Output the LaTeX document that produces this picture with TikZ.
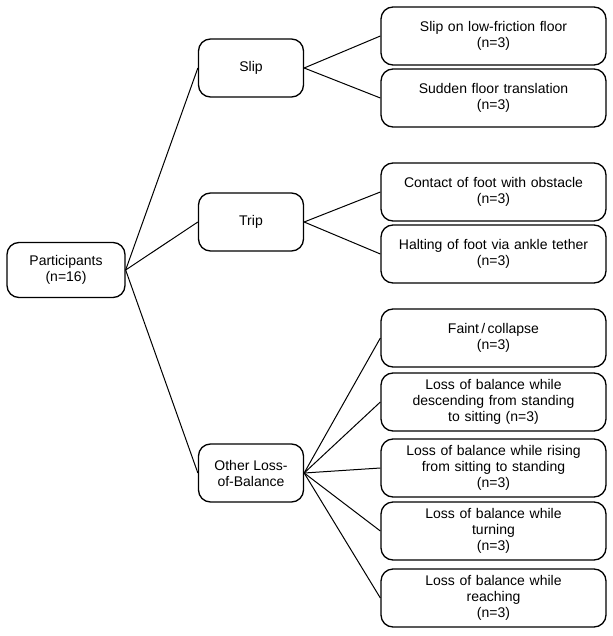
\documentclass[tikz,border=0pt]{standalone}
\usepackage{fontspec}
\setmainfont{Liberation Sans}
\begin{document}
\begin{tikzpicture}[x=1pt,y=-1pt,
  box/.style={draw,line width=1.3pt,rounded corners=12pt,align=center,font=\fontsize{14}{16}\selectfont,inner sep=2pt},
  mid/.style={box,minimum width=105pt,minimum height=58pt},
  leaf/.style={box,minimum width=225pt,minimum height=58pt,text width=215pt},
  ln/.style={line width=1pt}]
\useasboundingbox (0,0) rectangle (612,636);
\node[box,minimum width=118pt,minimum height=55pt] (p) at (66,270) {Participants\\(n=16)};
\node[mid] (s) at (251,68) {Slip};
\node[mid] (t) at (251,222) {Trip};
\node[mid] (o) at (251,473) {Other Loss-\\of-Balance};
\node[leaf] (l1) at (493.5,36) {Slip on low-friction floor\\(n=3)};
\node[leaf] (l2) at (493.5,98) {Sudden floor translation\\(n=3)};
\node[leaf] (l3) at (493.5,192) {Contact of foot with obstacle\\(n=3)};
\node[leaf] (l4) at (493.5,254) {Halting of foot via ankle tether\\(n=3)};
\node[leaf] (l5) at (493.5,338) {Faint\,/\,collapse\\(n=3)};
\node[leaf] (l6) at (493.5,402) {Loss of balance while\\descending from standing\\to sitting (n=3)};
\node[leaf] (l7) at (493.5,468) {Loss of balance while rising\\from sitting to standing\\(n=3)};
\node[leaf] (l8) at (493.5,531) {Loss of balance while\\turning\\(n=3)};
\node[leaf] (l9) at (493.5,598) {Loss of balance while\\reaching\\(n=3)};
\foreach \c in {s,t,o} \draw[ln] (p.east) -- (\c.west);
\foreach \c in {l1,l2} \draw[ln] (s.east) -- (\c.west);
\foreach \c in {l3,l4} \draw[ln] (t.east) -- (\c.west);
\foreach \c in {l5,l6,l7,l8,l9} \draw[ln] (o.east) -- (\c.west);
\end{tikzpicture}
\end{document}
